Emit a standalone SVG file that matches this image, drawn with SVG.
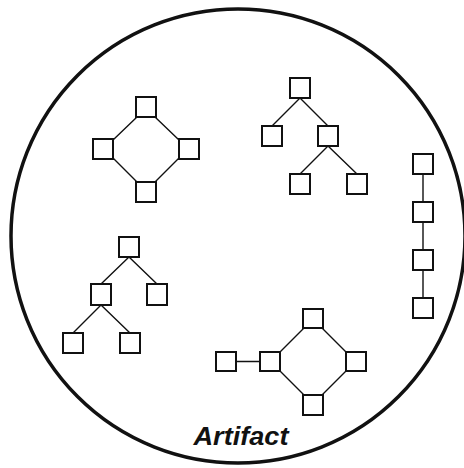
<svg xmlns="http://www.w3.org/2000/svg" width="464" height="468" viewBox="0 0 464 468">
<style>
.n{fill:#fff;stroke:#111;stroke-width:2}
.e{stroke:#111;stroke-width:1.4;fill:none}
.b{fill:none;stroke:#111;stroke-width:3.5}
.t{font-family:"Liberation Sans",Arial,sans-serif;font-weight:bold;font-style:italic;font-size:25px;fill:#111}
</style>
<rect width="464" height="468" fill="#fff"/>
<g id="artifact">
<circle class="b" cx="238" cy="236" r="227"/>
<text class="t" x="241" y="445" text-anchor="middle" textLength="95" lengthAdjust="spacingAndGlyphs">Artifact</text>
</g>
<g id="connectors">
<path class="e" d="M137 117L113 140M155 117L179 140M113 158L137 182M179 158L155 182"/>
<path class="e" d="M300 98L272 126M300 98L328 126M328 146L300 174M328 146L357 174"/>
<path class="e" d="M423 174V202M423 222V250M423 270V298"/>
<path class="e" d="M129 257L101 284M129 257L157 284M101 305L73 333M101 305L130 333"/>
<path class="e" d="M236 361.5H260M304 328L280 352M322 328L346 352M280 371L304 395M346 371L322 395"/>
</g>
<g id="diamond1">
<rect class="n" x="136" y="97" width="20" height="20"/>
<rect class="n" x="93" y="139" width="20" height="20"/>
<rect class="n" x="179" y="139" width="20" height="20"/>
<rect class="n" x="136" y="182" width="20" height="20"/>
</g>
<g id="tree1">
<rect class="n" x="290" y="78" width="20" height="20"/>
<rect class="n" x="262" y="126" width="20" height="20"/>
<rect class="n" x="318" y="126" width="20" height="20"/>
<rect class="n" x="290" y="174" width="20" height="20"/>
<rect class="n" x="347" y="174" width="20" height="20"/>
</g>
<g id="chain">
<rect class="n" x="413" y="154" width="20" height="20"/>
<rect class="n" x="413" y="202" width="20" height="20"/>
<rect class="n" x="413" y="250" width="20" height="20"/>
<rect class="n" x="413" y="298" width="20" height="20"/>
</g>
<g id="tree2">
<rect class="n" x="119" y="237" width="20" height="20"/>
<rect class="n" x="91" y="284" width="20" height="21"/>
<rect class="n" x="147" y="284" width="20" height="21"/>
<rect class="n" x="63" y="333" width="20" height="20"/>
<rect class="n" x="120" y="333" width="20" height="20"/>
</g>
<g id="diamond2">
<rect class="n" x="216" y="352" width="20" height="19"/>
<rect class="n" x="260" y="352" width="20" height="19"/>
<rect class="n" x="303" y="309" width="20" height="19"/>
<rect class="n" x="346" y="352" width="20" height="19"/>
<rect class="n" x="303" y="395" width="20" height="20"/>
</g>
</svg>
